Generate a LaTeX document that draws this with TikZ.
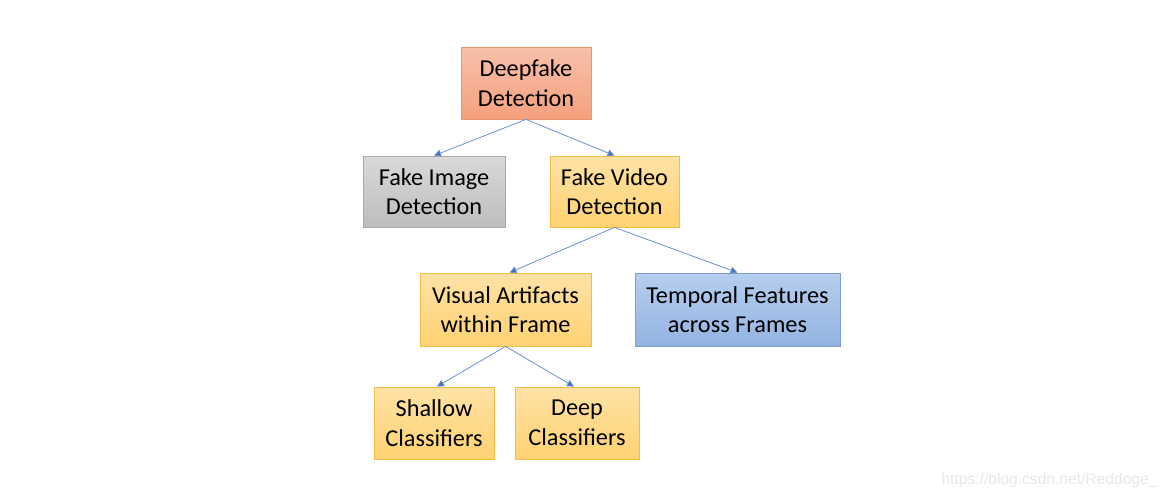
\documentclass[tikz,border=0pt]{standalone}
\usepackage{fontspec}
\setmainfont{Carlito}
\newfontfamily\wmfont{Liberation Sans}
\usetikzlibrary{arrows.meta}
\definecolor{edgeblue}{HTML}{6C8FCF}
\definecolor{tipblue}{HTML}{4472C4}
\tikzset{
  box/.style={draw, line width=0.8pt, align=center, inner sep=0pt,
    font=\fontsize{24.3}{29.5}\selectfont, text=black},
  salmonbox/.style={box, draw=salmonedge, top color=salmontop, bottom color=salmonbot},
  graybox/.style={box, draw=grayedge, top color=graytop, bottom color=graybot},
  yellowbox/.style={box, draw=yellowedge, top color=yellowtop, bottom color=yellowbot},
  bluebox/.style={box, draw=blueedge, top color=bluetop, bottom color=bluebot},
  link/.style={draw=edgeblue, line width=0.8pt, -{Triangle[width=7pt,length=7pt,fill=tipblue]}}
}
\definecolor{salmontop}{HTML}{F8C0AA}
\definecolor{salmonbot}{HTML}{F4A07E}
\definecolor{salmonedge}{HTML}{EC9470}
\definecolor{graytop}{HTML}{D9D9D9}
\definecolor{graybot}{HTML}{BDBDBD}
\definecolor{grayedge}{HTML}{A8A8A8}
\definecolor{yellowtop}{HTML}{FFE2A6}
\definecolor{yellowbot}{HTML}{FFD272}
\definecolor{yellowedge}{HTML}{F2BC48}
\definecolor{bluetop}{HTML}{B6CEEE}
\definecolor{bluebot}{HTML}{93B4E1}
\definecolor{blueedge}{HTML}{7E9FCB}
\begin{document}
\begin{tikzpicture}[x=1pt,y=-1pt]
\useasboundingbox (0,0) rectangle (1169,496);
\node[salmonbox, minimum width=130pt, minimum height=72pt] (df) at (526,83) {Deepfake\\Detection};
\node[graybox, minimum width=142pt, minimum height=71pt] (fi) at (434,191.5) {Fake Image\\Detection};
\node[yellowbox, minimum width=129pt, minimum height=71pt] (fv) at (614.5,191.5) {Fake Video\\Detection};
\node[yellowbox, minimum width=171pt, minimum height=73pt] (va) at (505.5,309.5) {Visual Artifacts\\within Frame};
\node[bluebox, minimum width=205pt, minimum height=73pt] (tf) at (737.5,309.5) {Temporal Features\\across Frames};
\node[yellowbox, minimum width=120pt, minimum height=72pt] (sc) at (434,423) {Shallow\\Classifiers};
\node[yellowbox, minimum width=124pt, minimum height=72pt] (dc) at (577,423) {Deep\\Classifiers};
\draw[link] (df.south) -- (fi.north);
\draw[link] (df.south) -- (fv.north);
\draw[link] (fv.south) -- ([xshift=4pt]va.north);
\draw[link] (fv.south) -- (tf.north);
\draw[link] (va.south) -- ([xshift=3pt]sc.north);
\draw[link] (va.south) -- ([xshift=-3pt]dc.north);
\node[font=\wmfont\fontsize{15.6}{17}\selectfont, text=black!9, anchor=east] (wm) at (1161,480) {https://blog.csdn.net/Reddoge\_};
\end{tikzpicture}
\end{document}
